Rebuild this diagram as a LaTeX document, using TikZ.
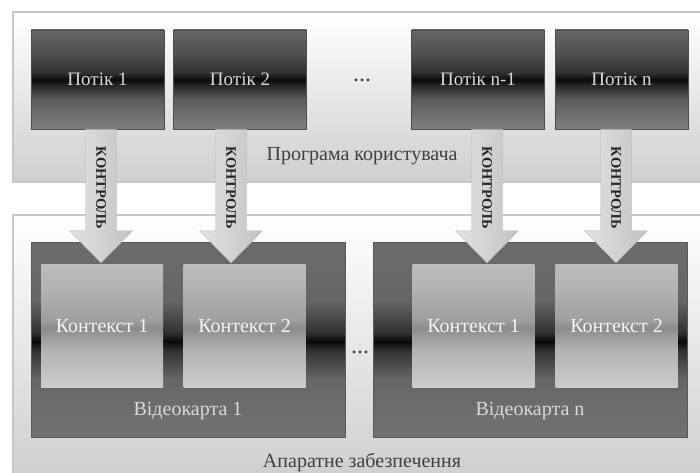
\documentclass[tikz,border=0pt]{standalone}
\usepackage{fontspec}
\setmainfont{Liberation Serif}
\usetikzlibrary{calc}

% vertical shadings (0bp = bottom, the shape spans 25bp..75bp)
\pgfdeclareverticalshading{threadshade}{100bp}{%
  rgb(0bp)=(0.50,0.50,0.50); rgb(25bp)=(0.50,0.50,0.50);
  rgb(40bp)=(0.36,0.36,0.36); rgb(48bp)=(0.12,0.12,0.12);
  rgb(50bp)=(0.04,0.04,0.04); rgb(53bp)=(0.18,0.18,0.18);
  rgb(62bp)=(0.30,0.30,0.30); rgb(75bp)=(0.40,0.40,0.40);
  rgb(100bp)=(0.40,0.40,0.40)}
\pgfdeclareverticalshading{cardshade}{100bp}{%
  rgb(0bp)=(0.45,0.45,0.45); rgb(25bp)=(0.45,0.45,0.45);
  rgb(40bp)=(0.40,0.40,0.40); rgb(47bp)=(0.20,0.20,0.20);
  rgb(49.5bp)=(0.04,0.04,0.04); rgb(52bp)=(0.20,0.20,0.20);
  rgb(60bp)=(0.40,0.40,0.40); rgb(75bp)=(0.42,0.42,0.42);
  rgb(100bp)=(0.42,0.42,0.42)}
\pgfdeclareverticalshading{ctxshade}{100bp}{%
  rgb(0bp)=(0.80,0.80,0.80); rgb(25bp)=(0.80,0.80,0.80);
  rgb(40bp)=(0.70,0.70,0.70); rgb(49bp)=(0.55,0.55,0.55);
  rgb(52bp)=(0.62,0.62,0.62); rgb(65bp)=(0.70,0.70,0.70);
  rgb(75bp)=(0.74,0.74,0.74); rgb(100bp)=(0.74,0.74,0.74)}

\definecolor{panelline}{gray}{0.78}
\definecolor{labeldark}{gray}{0.25}
\definecolor{labellight}{gray}{0.85}

\tikzset{
  panel/.style={draw=panelline, line width=1.2pt, top color=white, bottom color=gray!38},
  threadbox/.style={draw=black!70, line width=0.6pt, shading=threadshade,
    minimum width=133pt, minimum height=99pt, inner sep=0pt,
    text=labellight, font=\fontsize{19}{21}\selectfont},
  cardbox/.style={draw=black!65, line width=0.8pt, shading=cardshade,
    minimum width=314pt, minimum height=195pt, inner sep=0pt},
  ctxbox/.style={shading=ctxshade, minimum width=122pt, minimum height=123pt,
    inner sep=0pt, text=white!92!gray, font=\fontsize{20}{22}\selectfont},
  paneltext/.style={text=labeldark, font=\fontsize{20}{22}\selectfont},
  cardtext/.style={text=labellight, font=\fontsize{20}{22}\selectfont},
  dotstext/.style={text=labeldark, font=\fontsize{24}{26}\selectfont},
  arrowlabel/.style={rotate=-90, text=black!85, inner sep=0pt,
    font=\bfseries\fontsize{14.5}{16}\selectfont},
  fatarrow/.style={left color=gray!22, right color=gray!48, draw=gray!55, line width=0.4pt,
    to path={let \p1=(\tikztostart), \p2=(\tikztotarget) in
      (\x1-15.5pt,\y1) -- (\x1+15.5pt,\y1) -- (\x1+15.5pt,\y2+32pt)
      -- (\x1+31.5pt,\y2+32pt) -- (\x1,\y2) -- (\x1-31.5pt,\y2+32pt)
      -- (\x1-15.5pt,\y2+32pt) -- cycle}}
}

\begin{document}
\begin{tikzpicture}[x=1pt, y=1pt]
  \useasboundingbox (0,0) rectangle (700,472);

  % background panels: user program and hardware
  \path[panel] (13,472-12) rectangle (712,472-182);
  \path[panel] (13,472-215) rectangle (712,-8);
  \node[paneltext] (prog) at (362,472-156) {Програма користувача};
  \node[paneltext] (hw) at (362,472-462) {Апаратне забезпечення};

  % threads
  \node[threadbox] (t1) at (97.5,472-79.5) {Потік 1};
  \node[threadbox] (t2) at (240,472-79.5) {Потік 2};
  \node[threadbox] (t3) at (478,472-79.5) {Потік n-1};
  \node[threadbox] (t4) at (621.5,472-79.5) {Потік n};
  \node[dotstext] (dtop) at (362,472-80) {...};

  % video cards with their contexts
  \node[cardbox] (v1) at (188,472-339.5) {};
  \node[cardbox] (v2) at (530,472-339.5) {};
  \node[ctxbox] (c11) at (102,472-325.5) {Контекст 1};
  \node[ctxbox] (c12) at (244.5,472-325.5) {Контекст 2};
  \node[ctxbox] (c21) at (473.5,472-325.5) {Контекст 1};
  \node[ctxbox] (c22) at (616.5,472-325.5) {Контекст 2};
  \node[cardtext] (v1l) at (188,472-411) {Відеокарта 1};
  \node[cardtext] (v2l) at (530,472-411) {Відеокарта n};
  \node[dotstext] (dbot) at (360,472-352) {...};

  % control arrows
  \draw[fatarrow] ([xshift=3.5pt]t1.south) to ([yshift=1pt]c11.north);
  \draw[fatarrow] ([xshift=-9pt]t2.south) to ([yshift=1pt]c12.north);
  \draw[fatarrow] ([xshift=9pt]t3.south) to ([yshift=1pt]c21.north);
  \draw[fatarrow] ([xshift=-5.5pt]t4.south) to ([yshift=1pt]c22.north);
  \node[arrowlabel] (k1) at (101,472-188) {КОНТРОЛЬ};
  \node[arrowlabel] (k2) at (231,472-188) {КОНТРОЛЬ};
  \node[arrowlabel] (k3) at (487,472-188) {КОНТРОЛЬ};
  \node[arrowlabel] (k4) at (616,472-188) {КОНТРОЛЬ};
\end{tikzpicture}
\end{document}
